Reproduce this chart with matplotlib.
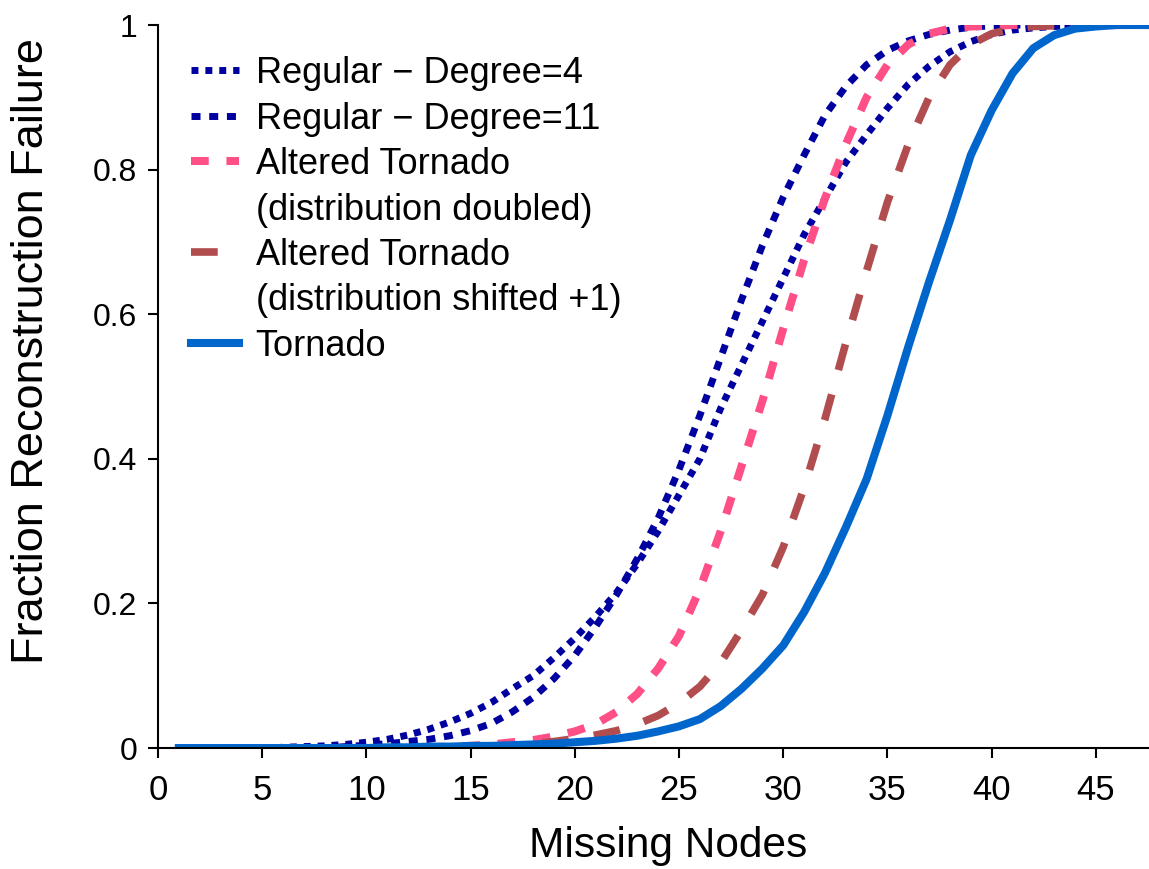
import matplotlib
matplotlib.use("Agg")
import matplotlib.pyplot as plt
from matplotlib.lines import Line2D

plt.rcParams['font.family'] = ['Liberation Sans', 'DejaVu Sans']

# missing nodes 1..50
nodes = list(range(1, 51))

regular_d4 = [0, 0, 0, 0, 0, 0.001, 0.002, 0.003, 0.005, 0.008,
              0.012, 0.018, 0.026, 0.036, 0.048, 0.063, 0.082, 0.10, 0.125, 0.152,
              0.182, 0.215, 0.255, 0.30, 0.35, 0.40, 0.47, 0.53, 0.59, 0.65,
              0.71, 0.76, 0.81, 0.848, 0.885, 0.918, 0.943, 0.963, 0.977, 0.987,
              0.993, 0.996, 0.998, 0.999, 1, 1, 1, 1, 1, 1]

regular_d11 = [0, 0, 0, 0, 0, 0, 0, 0, 0.002, 0.004,
               0.006, 0.009, 0.012, 0.017, 0.024, 0.034, 0.05, 0.07, 0.096, 0.128,
               0.168, 0.212, 0.262, 0.318, 0.385, 0.46, 0.54, 0.62, 0.695, 0.762,
               0.82, 0.875, 0.915, 0.945, 0.965, 0.978, 0.987, 0.993, 0.997, 0.999,
               1, 1, 1, 1, 1, 1, 1, 1, 1, 1]

tornado_doubled = [0, 0, 0, 0, 0, 0, 0, 0, 0, 0,
                   0, 0, 0.001, 0.002, 0.003, 0.005, 0.008, 0.011, 0.016, 0.023,
                   0.033, 0.05, 0.075, 0.11, 0.155, 0.22, 0.30, 0.39, 0.48, 0.58,
                   0.675, 0.76, 0.835, 0.90, 0.945, 0.973, 0.988, 0.995, 0.998, 0.999,
                   1, 1, 1, 1, 1, 1, 1, 1, 1, 1]

tornado_shifted = [0, 0, 0, 0, 0, 0, 0, 0, 0, 0,
                   0, 0, 0, 0, 0.001, 0.002, 0.004, 0.006, 0.009, 0.013,
                   0.018, 0.024, 0.033, 0.045, 0.062, 0.085, 0.118, 0.163, 0.212, 0.278,
                   0.36, 0.455, 0.56, 0.66, 0.755, 0.835, 0.90, 0.945, 0.973, 0.988,
                   0.995, 0.998, 0.999, 1, 1, 1, 1, 1, 1, 1]

tornado = [0, 0, 0, 0, 0, 0, 0, 0, 0, 0,
           0.001, 0.001, 0.002, 0.002, 0.003, 0.003, 0.004, 0.005, 0.006, 0.008,
           0.01, 0.013, 0.017, 0.023, 0.03, 0.04, 0.058, 0.082, 0.11, 0.142,
           0.188, 0.242, 0.305, 0.372, 0.46, 0.555, 0.645, 0.73, 0.82, 0.882,
           0.933, 0.968, 0.986, 0.995, 0.998, 1, 1, 1, 1, 1]

xticks = [0, 5, 10, 15, 20, 25, 30, 35, 40, 45]
yticks = [0, 0.2, 0.4, 0.6, 0.8, 1]
ytick_labels = ['0', '0.2', '0.4', '0.6', '0.8', '1']

fig = plt.figure(figsize=(11.49, 8.69), dpi=100)
ax = fig.add_axes([0.1375, 0.1392, 0.8625, 0.832])

l1, = ax.plot(nodes, regular_d4, color='#0000a0', lw=5.0, dashes=(1, 1))
l2, = ax.plot(nodes, regular_d11, color='#0000a0', lw=5.0, dashes=(1.3, 1.25))
l3, = ax.plot(nodes, tornado_doubled, color='#ff4f87', lw=5.8, dashes=(2.2, 2.2))
l4, = ax.plot(nodes, tornado_shifted, color='#b24d4f', lw=5.5, dashes=(3.5, 3.3))
l5, = ax.plot(nodes, tornado, color='#0066cc', lw=5.8)

ax.set_xlim(0, 47.55)
ax.set_ylim(0, 1)
ax.set_xticks(xticks)
ax.set_yticks(yticks)
ax.set_yticklabels(ytick_labels)

for side in ['top', 'right']:
    ax.spines[side].set_visible(False)
for side in ['left', 'bottom']:
    ax.spines[side].set_linewidth(1.5)

ax.tick_params(axis='y', direction='out', length=7, width=1.5, pad=8, labelsize=23)
ax.tick_params(axis='x', direction='out', length=7, width=1.5, pad=12, labelsize=25)

ax.set_xlabel('Missing Nodes', fontsize=30.5, va='baseline')
ax.xaxis.set_label_coords(0.515, -0.151)
ax.set_ylabel('Fraction Reconstruction Failure', fontsize=32.5, va='center')
ax.yaxis.set_label_coords(-0.128, 0.549)

blank = Line2D([], [], color='none')
handles = [l1, l2, l3, blank, l4, blank, l5]
labels = ['Regular \u2212 Degree=4', 'Regular \u2212 Degree=11',
          'Altered Tornado', '(distribution doubled)',
          'Altered Tornado', '(distribution shifted +1)', 'Tornado']
ax.legend(handles, labels, loc='upper left', bbox_to_anchor=(0.033, 0.957),
          frameon=False, fontsize=26, handlelength=1.33, handletextpad=0.47,
          labelspacing=0.29, borderpad=0, borderaxespad=0)

fig.savefig('out.png', dpi=100)
